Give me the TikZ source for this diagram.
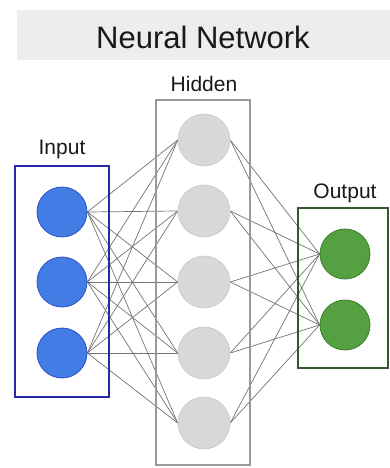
\documentclass[tikz,border=0pt]{standalone}
\usepackage{fontspec}
\setmainfont{Liberation Sans}
\usetikzlibrary{backgrounds}
\definecolor{inFill}{RGB}{66,125,230}
\definecolor{inLine}{RGB}{45,80,200}
\definecolor{inBox}{RGB}{40,40,170}
\definecolor{outFill}{RGB}{85,160,65}
\definecolor{outLine}{RGB}{60,125,45}
\definecolor{outBox}{RGB}{50,90,40}
\definecolor{hidFill}{RGB}{216,216,216}
\definecolor{hidLine}{RGB}{200,200,200}
\begin{document}
\begin{tikzpicture}[x=1pt,y=-1pt,
  lbl/.style={text=black!90, font=\fontsize{21}{24}\selectfont, inner sep=0pt},
  inneur/.style={circle, minimum size=50pt, inner sep=0pt, fill=inFill, draw=inLine, line width=0.8pt},
  hidneur/.style={circle, minimum size=52pt, inner sep=0pt, fill=hidFill, draw=hidLine, line width=0.6pt},
  outneur/.style={circle, minimum size=50pt, inner sep=0pt, fill=outFill, draw=outLine, line width=0.8pt},
  conn/.style={draw=black!55, line width=0.7pt},
  layerbox/.style={draw, line width=1.6pt, fill=none, inner sep=0pt}]
\useasboundingbox (0,0) rectangle (390,468);
\fill[black!7] (17,10) rectangle (390,60);
\node[text=black!90, font=\fontsize{31}{36}\selectfont, inner sep=0pt] (title) at (203,37) {Neural Network};
% boxes
\node[layerbox, draw=inBox, minimum width=94pt, minimum height=231pt] (inbox) at (62,281.5) {};
\node[layerbox, draw=black!40, minimum width=94pt, minimum height=365pt] (hidbox) at (203,282.5) {};
\node[layerbox, draw=outBox, minimum width=90pt, minimum height=160pt] (outbox) at (343,288) {};
\node[lbl] (inlbl) at (62,149) {Input};
\node[lbl] (hidlbl) at (204,84) {Hidden};
\node[lbl] (outlbl) at (345,193) {Output};
% neurons
\foreach \y [count=\i] in {212,282,353} \node[inneur] (i\i) at (62,\y) {};
\foreach \y [count=\i] in {140,211,282,353,423} \node[hidneur] (h\i) at (204,\y) {};
\foreach \y [count=\i] in {254,325} \node[outneur] (o\i) at (345,\y) {};
% connections
\begin{pgfonlayer}{background}
\foreach \a in {1,2,3} \foreach \b in {1,...,5} \draw[conn] (i\a.east) -- (h\b.west);
\foreach \a in {1,...,5} \foreach \b in {1,2} \draw[conn] (h\a.east) -- (o\b.west);
\end{pgfonlayer}
\end{tikzpicture}
\end{document}
